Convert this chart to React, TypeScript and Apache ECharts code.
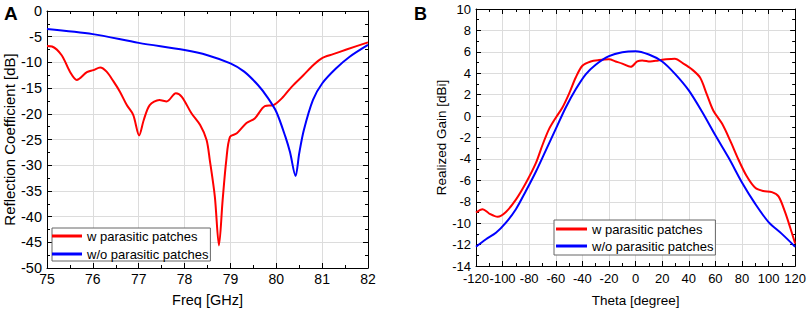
import React, { useEffect, useRef } from "react";
import * as echarts from "echarts";

// Panel A: reflection coefficient vs frequency
const freqRed = [75, 75.11, 75.32, 75.5, 75.65, 75.87, 76.01, 76.16, 76.3, 76.45, 76.59, 76.74, 76.88, 77.01, 77.11, 77.24, 77.45, 77.61, 77.81, 77.94, 78.15, 78.34, 78.48, 78.55, 78.66, 78.75, 78.83, 78.91, 78.99, 79.14, 79.35, 79.53, 79.75, 79.94, 80.12, 80.34, 80.59, 80.81, 80.99, 81.24, 81.53, 82];
const s11Red = [-6.8, -6.9, -8.6, -11.8, -13.4, -11.9, -11.5, -11.0, -11.8, -13.7, -15.7, -18.3, -20.2, -24.2, -21.2, -18.3, -17.3, -17.6, -16.0, -16.7, -19.9, -22.2, -25.1, -29.0, -36.1, -45.6, -36.8, -29.0, -24.5, -23.8, -21.8, -20.9, -18.5, -18.3, -17.0, -14.7, -12.5, -10.5, -9.2, -8.4, -7.5, -6.1];
const freqBlue = [75, 76, 77, 78, 78.5, 79, 79.3, 79.6, 79.8, 80.0, 80.2, 80.3, 80.42, 80.5, 80.6, 80.8, 81, 81.3, 81.6, 82];
const s11Blue = [-3.5, -4.5, -6.2, -7.6, -8.6, -10.2, -11.8, -14.4, -16.7, -19.6, -24.5, -27.5, -32.1, -27.7, -23.2, -17.3, -14.1, -11.2, -8.9, -6.6];

// Panel B: realized gain vs theta
const thetaRed = [-120, -115, -110, -103.75, -97.5, -90, -82.5, -75, -70, -65, -60, -55, -50, -45, -40, -33.75, -27.5, -20, -15, -10, -3.75, 1.25, 5, 11, 17, 23, 29.5, 36, 42, 48.5, 53.5, 58.5, 65, 71, 77.5, 83.5, 90, 96, 102.5, 107.5, 112.5, 117.5, 120];
const gainRed = [-9.0, -8.7, -9.1, -9.4, -8.95, -7.8, -6.25, -4.4, -2.7, -1.2, -0.15, 0.8, 2.1, 3.6, 4.7, 5.1, 5.23, 5.3, 5.1, 4.9, 4.6, 5.1, 5.2, 5.1, 5.2, 5.3, 5.35, 4.9, 4.4, 3.6, 2.05, 0.5, -0.7, -2.25, -4.1, -5.6, -6.7, -7.0, -7.1, -7.5, -9.0, -10.9, -11.9];
const thetaBlue = [-120, -112.5, -105, -97.5, -90, -82.5, -75, -67.5, -60, -52.5, -45, -37.5, -30, -20, -10, 0, 10, 20, 30, 40, 50, 60, 70, 80, 90, 100, 110, 120];
const gainBlue = [-12.2, -11.5, -10.9, -9.95, -8.7, -7.0, -5.2, -3.2, -1.2, 0.8, 2.5, 3.9, 4.8, 5.6, 5.97, 6.06, 5.75, 5.1, 3.9, 2.4, 0.4, -1.8, -3.9, -6.2, -8.2, -9.9, -11.0, -12.2];

const nameW = "w parasitic patches";
const nameWo = "w/o parasitic patches";
const xNameA = "Freq [GHz]";
const yNameA = "Reflection Coefficient [dB]";
const xNameB = "Theta [degree]";
const yNameB = "Realized Gain [dBi]";

const FONT = "'Liberation Sans', Arial, sans-serif";
const RED = "#ff0000";
const BLUE = "#0000ff";

const pairs = (xs: number[], ys: number[]) => xs.map((x, i) => [x, ys[i]]);

function axis(
  kind: "x" | "y",
  gridIndex: number,
  min: number,
  max: number,
  interval: number,
  position: string,
  primary: boolean,
  fs: number,
  labelMargin: number,
  name?: string,
  nameGap?: number
) {
  return {
    type: "value",
    gridIndex,
    min,
    max,
    interval,
    position,
    name: primary ? name : undefined,
    nameLocation: "middle",
    nameGap,
    nameRotate: kind === "y" ? 90 : 0,
    nameTextStyle: { fontSize: fs + 0.5, color: "#000", fontFamily: FONT },
    axisLine: { show: true, onZero: false, lineStyle: { color: "#000", width: 1 } },
    axisTick: { show: true, inside: true, length: 5, lineStyle: { color: "#000" } },
    minorTick: { show: true, splitNumber: 2, length: 3, lineStyle: { color: "#000" } },
    splitLine: { show: primary, lineStyle: { color: "#dcdcdc", width: 1 } },
    axisLabel: {
      show: primary,
      fontSize: fs,
      color: "#000",
      fontFamily: FONT,
      margin: labelMargin,
      hideOverlap: false,
    },
  };
}

export default function App() {
  const ref = useRef<HTMLDivElement>(null);
  useEffect(() => {
    const chart = echarts.init(ref.current!, null, { renderer: "svg" });
    const legendBase = {
      orient: "vertical",
      icon: "rect",
      itemHeight: 3,
      borderColor: "#666",
      borderWidth: 1,
      borderRadius: 0,
      backgroundColor: "#fff",
      selectedMode: false,
      textStyle: { fontSize: 13, color: "#000", fontFamily: FONT, lineHeight: 14 },
      data: [nameW, nameWo],
    };
    chart.setOption({
      animation: false,
      backgroundColor: "#fff",
      textStyle: { fontFamily: FONT },
      grid: [
        { left: 47, top: 11, width: 321, height: 257 },
        { left: 476, top: 9, width: 320, height: 259 },
      ],
      xAxis: [
        axis("x", 0, 75, 82, 1, "bottom", true, 14, 4, xNameA, 24),
        axis("x", 0, 75, 82, 1, "top", false, 14, 4),
        axis("x", 1, -120, 120, 20, "bottom", true, 13, 6, xNameB, 27),
        axis("x", 1, -120, 120, 20, "top", false, 13, 6),
      ],
      yAxis: [
        axis("y", 0, -50, 0, 5, "left", true, 14.5, 5, yNameA, 30),
        axis("y", 0, -50, 0, 5, "right", false, 14.5, 5),
        axis("y", 1, -14, 10, 2, "left", true, 13, 5, yNameB, 23),
        axis("y", 1, -14, 10, 2, "right", false, 13, 5),
      ],
      legend: [
        { ...legendBase, left: 52, top: 228, itemWidth: 30, itemGap: 4, padding: [1, 2, 0, 0] },
        { ...legendBase, left: 554, top: 220, itemWidth: 31, itemGap: 3, padding: [2, 2, 2, 2] },
      ],
      graphic: [
        { type: "text", left: 4, top: 4, style: { text: "A", fontSize: 19, fontWeight: "bold", fill: "#000", fontFamily: FONT } },
        { type: "text", left: 414, top: 5, style: { text: "B", fontSize: 18, fontWeight: "bold", fill: "#000", fontFamily: FONT } },
      ],
      series: [
        { name: nameW, type: "line", xAxisIndex: 0, yAxisIndex: 0, data: pairs(freqRed, s11Red), smooth: 0.3, showSymbol: false, color: RED, lineStyle: { width: 2, color: RED } },
        { name: nameWo, type: "line", xAxisIndex: 0, yAxisIndex: 0, data: pairs(freqBlue, s11Blue), smooth: 0.3, showSymbol: false, color: BLUE, lineStyle: { width: 2, color: BLUE } },
        { name: nameW, type: "line", xAxisIndex: 2, yAxisIndex: 2, data: pairs(thetaRed, gainRed), smooth: 0.3, showSymbol: false, color: RED, lineStyle: { width: 2, color: RED } },
        { name: nameWo, type: "line", xAxisIndex: 2, yAxisIndex: 2, data: pairs(thetaBlue, gainBlue), smooth: 0.3, showSymbol: false, color: BLUE, lineStyle: { width: 2, color: BLUE } },
      ],
    });
    return () => chart.dispose();
  }, []);
  return (
    <div
      ref={ref}
      style={{ position: "fixed", left: 0, top: 0, width: 809, height: 312, background: "#fff" }}
    />
  );
}
